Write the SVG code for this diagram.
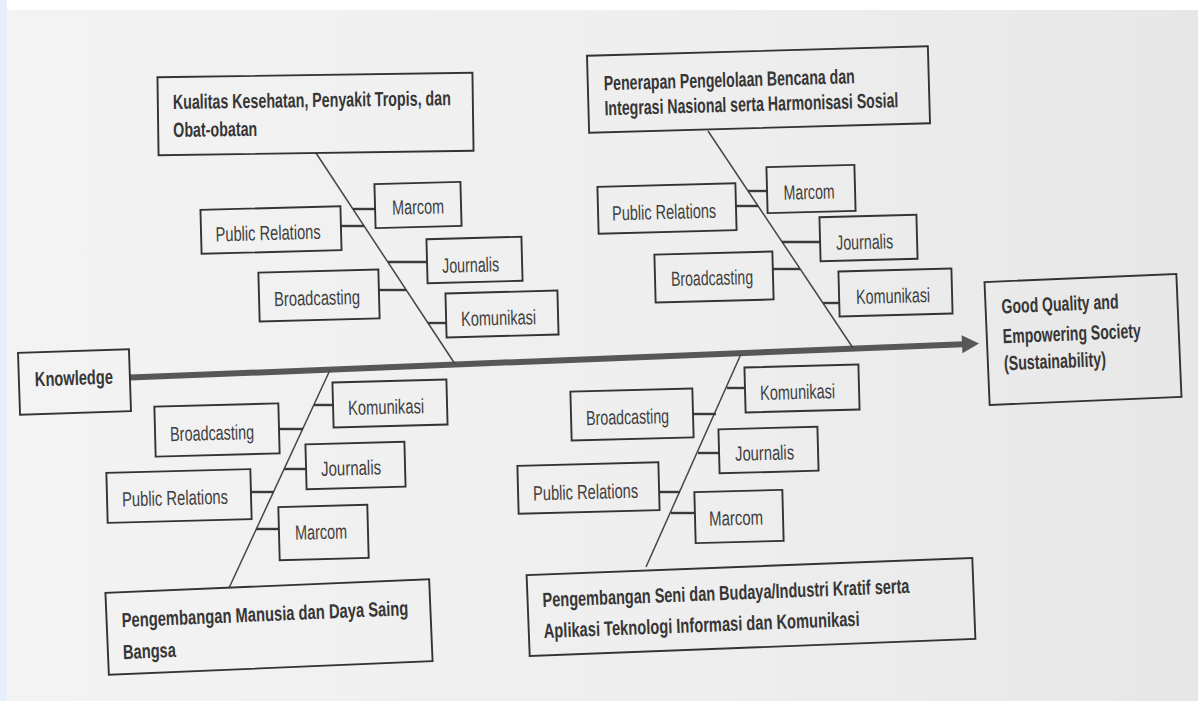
<svg xmlns="http://www.w3.org/2000/svg" width="1198" height="701" viewBox="0 0 1198 701">
<defs>
<linearGradient id="paper" x1="0" y1="0" x2="1" y2="0">
<stop offset="0" stop-color="#f3f3f3"/>
<stop offset="0.6" stop-color="#eeeeee"/>
<stop offset="1" stop-color="#e7e7e7"/>
</linearGradient>
<style>
.box{fill:none;stroke:#333;stroke-width:1.9}
.title{font-family:"Liberation Sans Narrow","Arial Narrow","Liberation Sans",Arial,sans-serif;font-weight:bold;font-size:20.5px;fill:#363636}
.lbl{font-family:"Liberation Sans Narrow","Arial Narrow","Liberation Sans",Arial,sans-serif;font-size:20.5px;fill:#3e3e3e;text-anchor:middle}
.bone{stroke:#454545;stroke-width:1.5;fill:none}
.conn{stroke:#3a3a3a;stroke-width:2.4;fill:none}
.spine{stroke:#575757;stroke-width:6;fill:none}
.head{fill:#575757}
</style>
</defs>
<rect x="0" y="0" width="1198" height="701" fill="#ffffff"/>
<rect x="0" y="0" width="7" height="701" fill="#e6eefa"/>
<rect x="7" y="10" width="1191" height="691" fill="url(#paper)"/>

<g id="connectors">
<line class="spine" x1="130" y1="377.6" x2="963" y2="344.2"/>
<polygon class="head" points="979,343.5 962.4,353.2 961.6,335.2"/>
<line class="bone" x1="316" y1="153" x2="455" y2="364"/>
<line class="bone" x1="708" y1="131" x2="853" y2="348"/>
<line class="bone" x1="330" y1="370" x2="229" y2="588"/>
<line class="bone" x1="741" y1="354" x2="646" y2="567"/>
<line class="conn" x1="353" y1="209" x2="375" y2="209"/>
<line class="conn" x1="341" y1="226" x2="364" y2="226"/>
<line class="conn" x1="388" y1="262" x2="427" y2="262"/>
<line class="conn" x1="379" y1="290" x2="406" y2="290"/>
<line class="conn" x1="428" y1="323" x2="446" y2="323"/>
<line class="conn" x1="748" y1="191" x2="767" y2="191"/>
<line class="conn" x1="736" y1="206" x2="758" y2="206"/>
<line class="conn" x1="782" y1="242" x2="820" y2="242"/>
<line class="conn" x1="773" y1="269" x2="800" y2="269"/>
<line class="conn" x1="823" y1="303" x2="839" y2="303"/>
<line class="conn" x1="314" y1="405" x2="333" y2="405"/>
<line class="conn" x1="279" y1="429" x2="303" y2="429"/>
<line class="conn" x1="284" y1="469" x2="306" y2="469"/>
<line class="conn" x1="251" y1="492" x2="274" y2="492"/>
<line class="conn" x1="256" y1="529" x2="279" y2="529"/>
<line class="conn" x1="727" y1="388" x2="745" y2="388"/>
<line class="conn" x1="693" y1="414" x2="716" y2="414"/>
<line class="conn" x1="698" y1="453" x2="719" y2="453"/>
<line class="conn" x1="659" y1="492" x2="680" y2="492"/>
<line class="conn" x1="671" y1="513" x2="695" y2="513"/>
</g>

<g id="knowledge" transform="rotate(-1.9 74.5 382)">
<rect class="box" x="19" y="351" width="111" height="62"/>
<text class="title" x="35" y="385" textLength="78" lengthAdjust="spacingAndGlyphs">Knowledge</text>
</g>

<g id="goal" transform="rotate(-2.4 1083 339.5)">
<rect class="box" x="987" y="278" width="192" height="123"/>
<text class="title" x="1003" y="310" textLength="117" lengthAdjust="spacingAndGlyphs">Good Quality and</text>
<text class="title" x="1003" y="340" textLength="138" lengthAdjust="spacingAndGlyphs">Empowering Society</text>
<text class="title" x="1003" y="367" textLength="102" lengthAdjust="spacingAndGlyphs">(Sustainability)</text>
</g>

<g id="cat-kesehatan" transform="rotate(-0.8 315.5 114)">
<rect class="box" x="158" y="75" width="315" height="78"/>
<text class="title" x="173" y="107" textLength="278" lengthAdjust="spacingAndGlyphs">Kualitas Kesehatan, Penyakit Tropis, dan</text>
<text class="title" x="173" y="135" textLength="84" lengthAdjust="spacingAndGlyphs">Obat-obatan</text>
</g>

<g id="cat-bencana" transform="rotate(-1.6 758.5 89.7)">
<rect class="box" x="588" y="51" width="341" height="77"/>
<text class="title" x="604" y="86" textLength="251" lengthAdjust="spacingAndGlyphs">Penerapan Pengelolaan Bencana dan</text>
<text class="title" x="604" y="111" textLength="294" lengthAdjust="spacingAndGlyphs">Integrasi Nasional serta Harmonisasi Sosial</text>
</g>

<g id="cat-manusia" transform="rotate(-2.4 269 627)">
<rect class="box" x="107" y="586" width="324" height="82"/>
<text class="title" x="122" y="621" textLength="287" lengthAdjust="spacingAndGlyphs">Pengembangan Manusia dan Daya Saing</text>
<text class="title" x="122" y="653" textLength="53" lengthAdjust="spacingAndGlyphs">Bangsa</text>
</g>

<g id="cat-seni" transform="rotate(-2.2 751 607)">
<rect class="box" x="528" y="566.5" width="446" height="81"/>
<text class="title" x="543" y="599" textLength="367" lengthAdjust="spacingAndGlyphs">Pengembangan Seni dan Budaya/Industri Kratif serta</text>
<text class="title" x="543" y="630" textLength="316" lengthAdjust="spacingAndGlyphs">Aplikasi Teknologi Informasi dan Komunikasi</text>
</g>

<g id="tl-marcom" transform="rotate(-1.5 418 205)"><rect class="box" x="375" y="183" width="86" height="44"/><text class="lbl" x="418" y="214" textLength="52" lengthAdjust="spacingAndGlyphs">Marcom</text></g>
<g id="tl-pr" transform="rotate(-1.5 271 230)"><rect class="box" x="201" y="208" width="140" height="44"/><text class="lbl" x="268" y="240" textLength="105" lengthAdjust="spacingAndGlyphs">Public Relations</text></g>
<g id="tl-journalis" transform="rotate(-1.5 474.5 260)"><rect class="box" x="427" y="238" width="95" height="44"/><text class="lbl" x="470.5" y="272" textLength="57" lengthAdjust="spacingAndGlyphs">Journalis</text></g>
<g id="tl-broadcasting" transform="rotate(-1.5 319 295.5)"><rect class="box" x="259" y="271" width="120" height="49"/><text class="lbl" x="317" y="305" textLength="86" lengthAdjust="spacingAndGlyphs">Broadcasting</text></g>
<g id="tl-komunikasi" transform="rotate(-1.5 502 314)"><rect class="box" x="446" y="292" width="112" height="44"/><text class="lbl" x="498.5" y="325" textLength="75" lengthAdjust="spacingAndGlyphs">Komunikasi</text></g>

<g id="tr-marcom" transform="rotate(-1.5 811 189)"><rect class="box" x="767" y="166" width="88" height="46"/><text class="lbl" x="809" y="199" textLength="51" lengthAdjust="spacingAndGlyphs">Marcom</text></g>
<g id="tr-pr" transform="rotate(-1.5 667 208.5)"><rect class="box" x="598" y="185" width="138" height="47"/><text class="lbl" x="664" y="219" textLength="104" lengthAdjust="spacingAndGlyphs">Public Relations</text></g>
<g id="tr-journalis" transform="rotate(-1.5 868.5 238)"><rect class="box" x="820" y="216" width="97" height="44"/><text class="lbl" x="864.5" y="249" textLength="57" lengthAdjust="spacingAndGlyphs">Journalis</text></g>
<g id="tr-broadcasting" transform="rotate(-1.5 714 277)"><rect class="box" x="655" y="253" width="118" height="48"/><text class="lbl" x="712" y="285" textLength="82" lengthAdjust="spacingAndGlyphs">Broadcasting</text></g>
<g id="tr-komunikasi" transform="rotate(-1.5 895.5 292.5)"><rect class="box" x="839" y="270" width="113" height="45"/><text class="lbl" x="893" y="303" textLength="74" lengthAdjust="spacingAndGlyphs">Komunikasi</text></g>

<g id="bl-komunikasi" transform="rotate(-1.5 390 403.5)"><rect class="box" x="333" y="381" width="114" height="45"/><text class="lbl" x="386" y="414" textLength="76" lengthAdjust="spacingAndGlyphs">Komunikasi</text></g>
<g id="bl-broadcasting" transform="rotate(-1.5 217 430)"><rect class="box" x="155" y="405" width="124" height="50"/><text class="lbl" x="212" y="440" textLength="84" lengthAdjust="spacingAndGlyphs">Broadcasting</text></g>
<g id="bl-journalis" transform="rotate(-1.5 355.5 465.5)"><rect class="box" x="306" y="443" width="99" height="45"/><text class="lbl" x="351" y="475" textLength="60" lengthAdjust="spacingAndGlyphs">Journalis</text></g>
<g id="bl-pr" transform="rotate(-1.5 179 496)"><rect class="box" x="107" y="471" width="144" height="50"/><text class="lbl" x="175" y="505" textLength="106" lengthAdjust="spacingAndGlyphs">Public Relations</text></g>
<g id="bl-marcom" transform="rotate(-1.5 323.5 532.5)"><rect class="box" x="279" y="506" width="89" height="53"/><text class="lbl" x="321" y="539" textLength="52" lengthAdjust="spacingAndGlyphs">Marcom</text></g>

<g id="br-komunikasi" transform="rotate(-1.5 802 388.5)"><rect class="box" x="745" y="366" width="114" height="45"/><text class="lbl" x="797.5" y="399" textLength="75" lengthAdjust="spacingAndGlyphs">Komunikasi</text></g>
<g id="br-broadcasting" transform="rotate(-1.5 632 414.5)"><rect class="box" x="571" y="390" width="122" height="49"/><text class="lbl" x="627.5" y="424" textLength="83" lengthAdjust="spacingAndGlyphs">Broadcasting</text></g>
<g id="br-journalis" transform="rotate(-1.5 768.5 450)"><rect class="box" x="719" y="428" width="99" height="44"/><text class="lbl" x="764.5" y="460" textLength="59" lengthAdjust="spacingAndGlyphs">Journalis</text></g>
<g id="br-pr" transform="rotate(-1.5 588.5 488)"><rect class="box" x="518" y="464" width="141" height="48"/><text class="lbl" x="585.5" y="499" textLength="105" lengthAdjust="spacingAndGlyphs">Public Relations</text></g>
<g id="br-marcom" transform="rotate(-1.5 739 516.5)"><rect class="box" x="695" y="491" width="88" height="51"/><text class="lbl" x="736" y="525" textLength="54" lengthAdjust="spacingAndGlyphs">Marcom</text></g>
</svg>
